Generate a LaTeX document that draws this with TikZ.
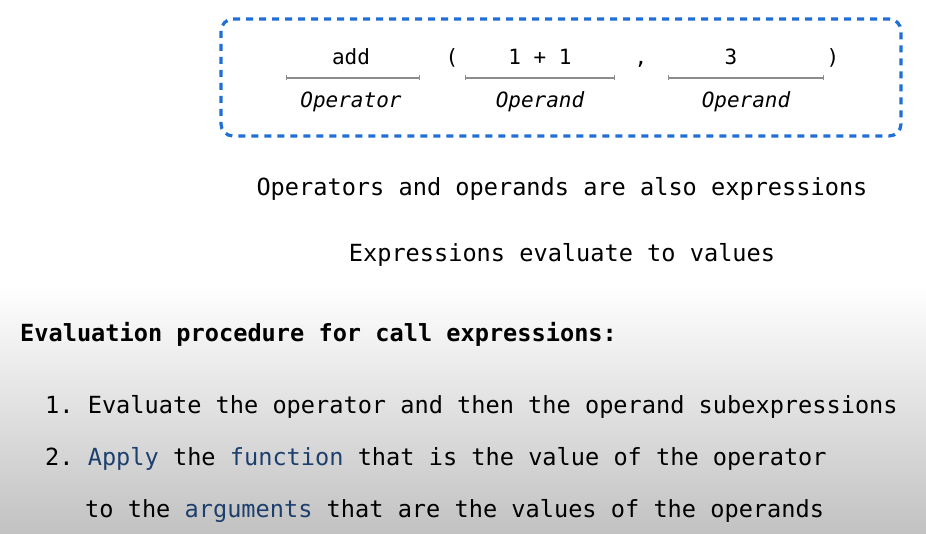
\documentclass[tikz,border=0pt]{standalone}
\usepackage{fontspec}
\setmonofont{DejaVu Sans Mono}
\usetikzlibrary{arrows.meta}
\definecolor{boxblue}{HTML}{1F6FD6}
\definecolor{termblue}{HTML}{1D3F6E}
\begin{document}
\begin{tikzpicture}[x=1pt,y=-1pt,
    code/.style={inner sep=0pt,anchor=base,font=\ttfamily\fontsize{21}{24}\selectfont},
    role/.style={inner sep=0pt,anchor=base,font=\ttfamily\itshape\fontsize{21}{24}\selectfont},
    body/.style={inner sep=0pt,font=\ttfamily\fontsize{23.6}{28}\selectfont},
    underbar/.style={draw=black!45,line width=1.1pt,{Bar[width=5pt]}-{Bar[width=5pt]}}]
  \useasboundingbox (0,0) rectangle (926,534);
  \fill[white] (0,0) rectangle (926,534);
  \shade[top color=white,bottom color=black!24] (0,285) rectangle (926,534);
  % the call expression
  \draw[boxblue,line width=3.2pt,dash pattern=on 7pt off 6pt,rounded corners=12pt]
    (221,19) rectangle (901,136);
  \node[code] (op) at (351,65) {add};
  \node[code] (lp) at (452,65) {(};
  \node[code] (arga) at (540,65) {1 + 1};
  \node[code] (comma) at (641,65) {,};
  \node[code] (argb) at (731,65) {3};
  \node[code] (rp) at (833,65) {)};
  \coordinate (opl) at (286,78);  \coordinate (opr) at (420,78);
  \coordinate (al) at (465,78);   \coordinate (ar) at (615,78);
  \coordinate (bl) at (668,78);   \coordinate (br) at (824,78);
  \draw[underbar] (opl) -- (opr);
  \draw[underbar] (al) -- (ar);
  \draw[underbar] (bl) -- (br);
  \node[role] (oplabel) at (351,108) {Operator};
  \node[role] (alabel) at (540,108) {Operand};
  \node[role] (blabel) at (746,108) {Operand};
  % remarks
  \node[body,anchor=base] (also) at (562,196) {Operators and operands are also expressions};
  \node[body,anchor=base] (values) at (562,262) {Expressions evaluate to values};
  % procedure
  \node[body,anchor=base west,font=\ttfamily\bfseries\fontsize{23.6}{28}\selectfont] (head) at (20,342) {Evaluation procedure for call expressions:};
  \node[body,anchor=base west] (stepa) at (45,413) {1. Evaluate the operator and then the operand subexpressions};
  \node[body,anchor=base west] (stepb) at (45,465) {2. \textcolor{termblue}{Apply} the \textcolor{termblue}{function} that is the value of the operator};
  \node[body,anchor=base west] (stepc) at (85,517) {to the \textcolor{termblue}{arguments} that are the values of the operands};
\end{tikzpicture}
\end{document}
